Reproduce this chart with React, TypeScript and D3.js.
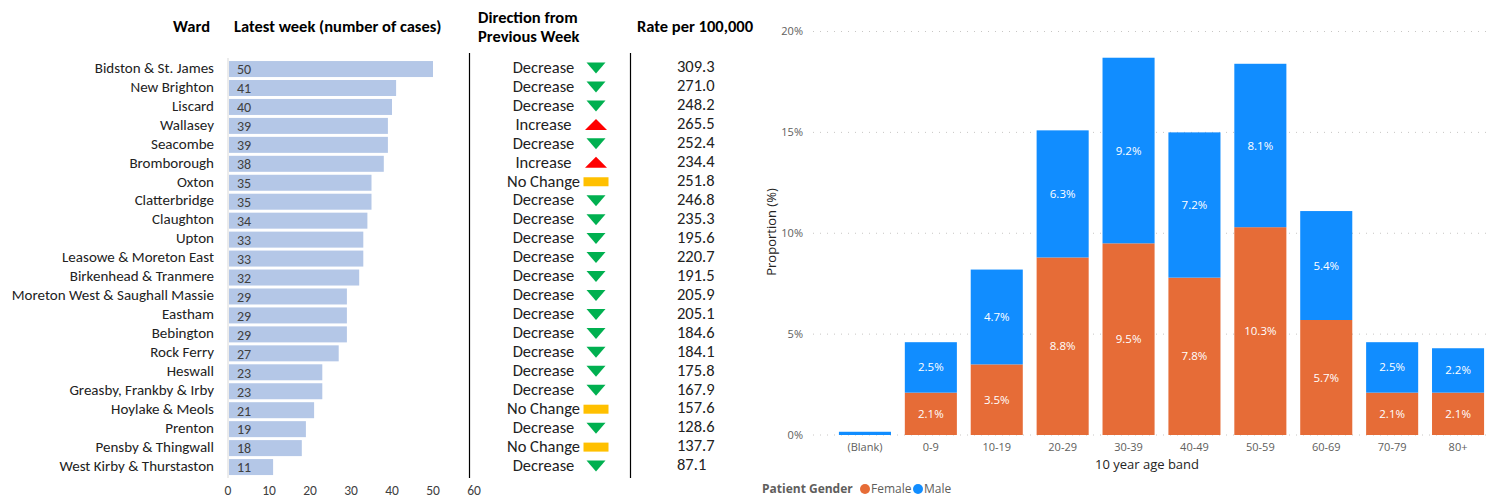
// Ward case table (left) + age/gender stacked bars (right), one svg.
import * as d3 from "d3";

const WARDS = [
  "Bidston & St. James", "New Brighton", "Liscard", "Wallasey", "Seacombe",
  "Bromborough", "Oxton", "Clatterbridge", "Claughton", "Upton",
  "Leasowe & Moreton East", "Birkenhead & Tranmere", "Moreton West & Saughall Massie",
  "Eastham", "Bebington", "Rock Ferry", "Heswall", "Greasby, Frankby & Irby",
  "Hoylake & Meols", "Prenton", "Pensby & Thingwall", "West Kirby & Thurstaston",
];
const CASES = [50, 41, 40, 39, 39, 38, 35, 35, 34, 33, 33, 32, 29, 29, 29, 27, 23, 23, 21, 19, 18, 11];
const DIRECTION = [
  "Decrease", "Decrease", "Decrease", "Increase", "Decrease", "Increase", "No Change",
  "Decrease", "Decrease", "Decrease", "Decrease", "Decrease", "Decrease", "Decrease",
  "Decrease", "Decrease", "Decrease", "Decrease", "No Change", "Decrease", "No Change", "Decrease",
];
const RATES = [
  "309.3", "271.0", "248.2", "265.5", "252.4", "234.4", "251.8", "246.8", "235.3", "195.6",
  "220.7", "191.5", "205.9", "205.1", "184.6", "184.1", "175.8", "167.9", "157.6", "128.6",
  "137.7", "87.1",
];
const CASE_TICKS = [0, 10, 20, 30, 40, 50, 60];

const AGE_BANDS = ["(Blank)", "0-9", "10-19", "20-29", "30-39", "40-49", "50-59", "60-69", "70-79", "80+"];
const FEMALE = [0, 2.1, 3.5, 8.8, 9.5, 7.8, 10.3, 5.7, 2.1, 2.1];
const MALE = [0.16, 2.5, 4.7, 6.3, 9.2, 7.2, 8.1, 5.4, 2.5, 2.2];
const PCT_TICKS = [0, 5, 10, 15, 20];

const LEFT_FONT = "Carlito, Lato, sans-serif";
const RIGHT_FONT = "'Segoe UI', 'Open Sans', sans-serif";
const FEMALE_C = "#E66C37";
const MALE_C = "#118DFF";

export default function App() {
  // left table
  const y = d3.scaleBand<string>().domain(WARDS).range([58.2, 477.9]).paddingInner(0.156).paddingOuter(0.15);
  const xc = d3.scaleLinear().domain([0, 60]).range([228, 474]);

  // right chart
  const xb = d3.scaleBand<string>().domain(AGE_BANDS).range([832, 1491]).paddingInner(0.21).paddingOuter(0.105);
  const yp = d3.scaleLinear().domain([0, 20]).range([435, 31.5]);

  const icon = (dir: string, cy: number) => {
    const cx = 596;
    if (dir === "Decrease")
      return <path d={`M${cx - 9.5},${cy - 5.5}L${cx + 9.5},${cy - 5.5}L${cx},${cy + 5.5}Z`} fill="#00B050" />;
    if (dir === "Increase")
      return <path d={`M${cx - 11},${cy + 5}L${cx + 11},${cy + 5}L${cx},${cy - 6}Z`} fill="#FF0000" />;
    return <rect x={cx - 12.5} y={cy - 4.5} width={25} height={9} fill="#FFC000" />;
  };

  return (
    <div style={{ position: "fixed", left: 0, top: 0 }}>
      <style>{`body{margin:0}`}</style>
      <svg width={1487} height={498} style={{ display: "block", background: "#fff" }}>
        {/* headers */}
        <g fontFamily={LEFT_FONT} fontWeight={700} fontSize={16.5} fill="#000">
          <text x={210} y={32} textAnchor="end">Ward</text>
          <text x={234} y={32}>Latest week (number of cases)</text>
          <text x={478} y={23}>Direction from</text>
          <text x={478} y={42}>Previous Week</text>
          <text x={695} y={32} textAnchor="middle">Rate per 100,000</text>
        </g>

        <line x1={228} x2={228} y1={58} y2={478} stroke="#D9D9D9" />
        <line x1={469.5} x2={469.5} y1={53} y2={478} stroke="#000" strokeWidth={1.2} />
        <line x1={630.5} x2={630.5} y1={53} y2={478} stroke="#000" strokeWidth={1.2} />

        {WARDS.map((w, i) => {
          const top = y(w)!;
          const cy = top + y.bandwidth() / 2;
          return (
            <g key={w} fontFamily={LEFT_FONT}>
              <text x={214} y={cy - 1.5} dy="0.35em" textAnchor="end" fill="#222" fontSize={15}>{w}</text>
              <rect x={xc(0) + 1} y={top} width={xc(CASES[i]) - xc(0) - 1} height={y.bandwidth()} fill="#B4C7E7" />
              <text x={xc(0) + 9} y={cy} dy="0.38em" fill="#404040" fontSize={14}>{CASES[i]}</text>
              <text x={543.5} y={cy - 2} dy="0.35em" textAnchor="middle" fill="#222" fontSize={16.5}>{DIRECTION[i]}</text>
              {icon(DIRECTION[i], cy - 1)}
              <text x={677} y={cy - 2.5} dy="0.35em" fill="#222" fontSize={16.5}>{RATES[i]}</text>
            </g>
          );
        })}

        <g fontFamily={LEFT_FONT} fontSize={13.5} fill="#404040">
          {CASE_TICKS.map((t) => (
            <text key={t} x={xc(t)} y={495} textAnchor="middle">{t}</text>
          ))}
        </g>

        {/* right chart */}
        <g fontFamily={RIGHT_FONT}>
          {PCT_TICKS.map((t) => (
            <g key={t}>
              <line x1={813} x2={1487} y1={yp(t)} y2={yp(t)} stroke="#C8C6C4" strokeDasharray="1 6" />
              <text x={803} y={yp(t)} dy="0.35em" textAnchor="end" fontSize={11} fill="#605E5C">{t}%</text>
            </g>
          ))}
          {AGE_BANDS.map((b, i) => {
            const x0 = xb(b)!;
            const w = xb.bandwidth();
            const f = FEMALE[i];
            const m = MALE[i];
            return (
              <g key={b}>
                {f > 0 && <rect x={x0} y={yp(f)} width={w} height={yp(0) - yp(f)} fill={FEMALE_C} />}
                <rect x={x0} y={yp(f + m)} width={w} height={yp(f) - yp(f + m)} fill={MALE_C} />
                {f > 0 && (
                  <text x={x0 + w / 2} y={yp(f / 2)} dy="0.35em" textAnchor="middle" fontSize={11.5} fill="#fff">
                    {f.toFixed(1)}%
                  </text>
                )}
                {m > 1 && (
                  <text x={x0 + w / 2} y={yp(f + m / 2)} dy="0.35em" textAnchor="middle" fontSize={11.5} fill="#fff">
                    {m.toFixed(1)}%
                  </text>
                )}
                <text x={x0 + w / 2} y={447} dy="0.35em" textAnchor="middle" fontSize={11} fill="#605E5C">{b}</text>
              </g>
            );
          })}
          <text x={1147} y={464} dy="0.35em" textAnchor="middle" fontSize={13} fill="#252423">10 year age band</text>
          <text transform="translate(771,232) rotate(-90)" dy="0.35em" textAnchor="middle" fontSize={13} fill="#252423">
            Proportion (%)
          </text>

          {/* legend */}
          <text x={762} y={489} dy="0.35em" fontSize={12} fontWeight={700} fill="#605E5C">Patient Gender</text>
          <circle cx={865} cy={489} r={5} fill={FEMALE_C} />
          <text x={871} y={489} dy="0.35em" fontSize={12} fill="#605E5C">Female</text>
          <circle cx={918} cy={489} r={5} fill={MALE_C} />
          <text x={924} y={489} dy="0.35em" fontSize={12} fill="#605E5C">Male</text>
        </g>
      </svg>
    </div>
  );
}
